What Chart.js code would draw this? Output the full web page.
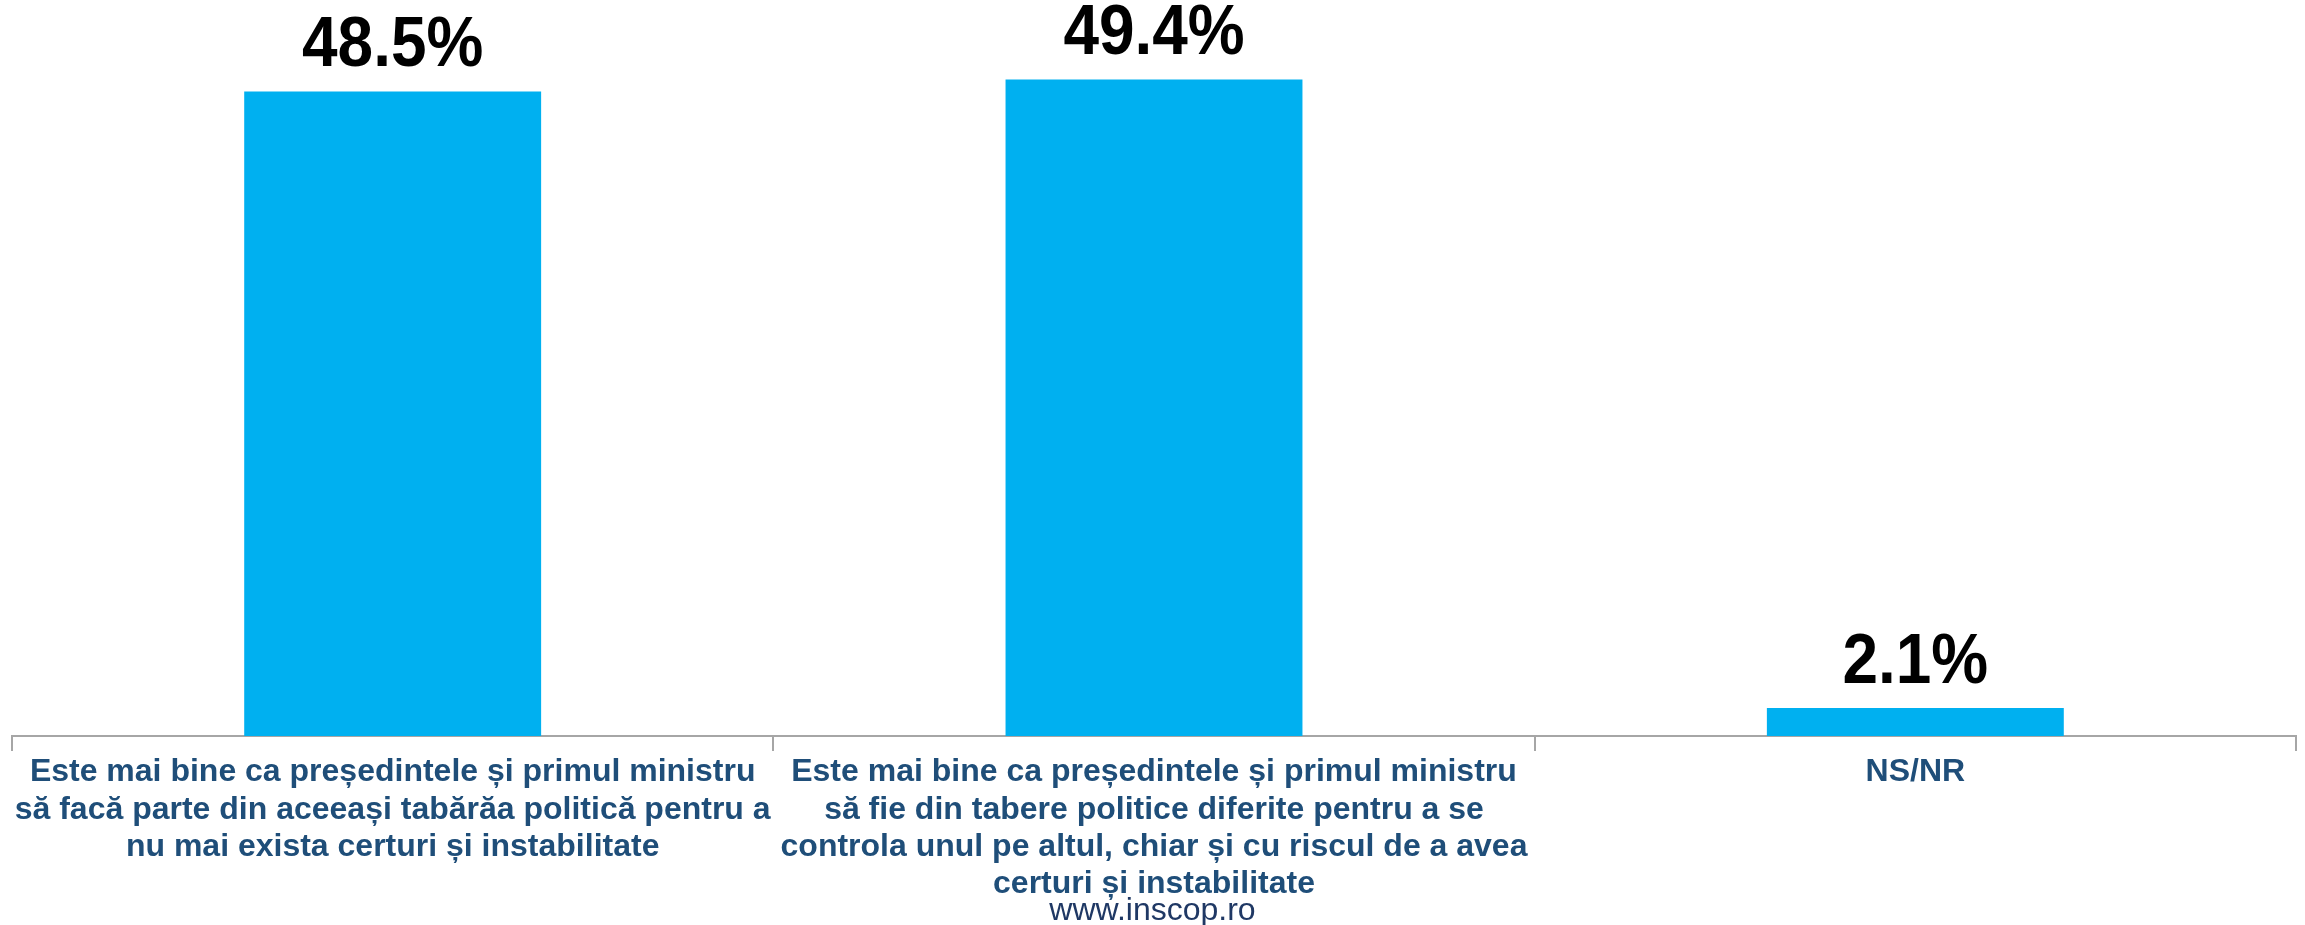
<!DOCTYPE html>
<html>
<head>
<meta charset="utf-8">
<script src="https://cdn.jsdelivr.net/npm/chart.js@4/dist/chart.umd.min.js"></script>
<style>
    html, body { margin: 0; padding: 0; background: #ffffff; }
    #wrap { position: relative; width: 2305px; height: 925px; }
    #footer {
        position: absolute; left: 0; width: 2305px; top: 891px;
        text-align: center; font-family: "Liberation Sans", Arial, sans-serif;
        font-size: 32px; color: #1f3864;
    }
</style>
</head>
<body>
<div id="wrap">
    <canvas id="chart" width="2305" height="925"></canvas>
    <div id="footer">www.inscop.ro</div>
</div>
<script>
const categories = [
    ["Este mai bine ca președintele și primul ministru", "să facă parte din aceeași tabărăa politică pentru a", "nu mai exista certuri și instabilitate"],
    ["Este mai bine ca președintele și primul ministru", "să fie din tabere politice diferite pentru a se", "controla unul pe altul, chiar și cu riscul de a avea", "certuri și instabilitate"],
    ["NS/NR"],
];
const values = [48.5, 49.4, 2.1];

const font = '"Liberation Sans", Arial, sans-serif';

// value labels above the bars, slightly condensed like the original
const valueLabels = {
    id: "valueLabels",
    afterDatasetsDraw(chart) {
        const { ctx } = chart;
        const meta = chart.getDatasetMeta(0);
        ctx.save();
        ctx.font = "bold 71px " + font;
        ctx.fillStyle = "#000000";
        ctx.textAlign = "center";
        ctx.textBaseline = "alphabetic";
        meta.data.forEach((bar, i) => {
            ctx.save();
            ctx.translate(bar.x, bar.y - 25);
            ctx.scale(0.9, 1);
            ctx.fillText(values[i].toFixed(1) + "%", 0, 0);
            ctx.restore();
        });
        ctx.restore();
    },
};

new Chart(document.getElementById("chart"), {
    type: "bar",
    data: {
        labels: categories,
        datasets: [
            {
                data: values,
                backgroundColor: "#00b0f0",
                borderWidth: 0,
                categoryPercentage: 1,
                barPercentage: 0.39,
            },
        ],
    },
    options: {
        responsive: false,
        devicePixelRatio: 1,
        animation: false,
        layout: { padding: { top: 5, left: 12, right: 9, bottom: 0 } },
        plugins: { legend: { display: false }, tooltip: { enabled: false } },
        scales: {
            y: { display: false, min: 0, max: 55 },
            x: {
                afterFit(scale) { scale.height = 189; },
                border: { display: true, color: "#a6a6a6", width: 2 },
                grid: { offset: true, drawOnChartArea: false, tickLength: 15, color: "#a6a6a6", lineWidth: 2 },
                ticks: {
                    color: "#1f4e79",
                    padding: 3,
                    maxRotation: 0,
                    autoSkip: false,
                    font: { family: font, size: 32, weight: "bold", lineHeight: 1.16 },
                },
            },
        },
    },
    plugins: [valueLabels],
});
</script>
</body>
</html>
